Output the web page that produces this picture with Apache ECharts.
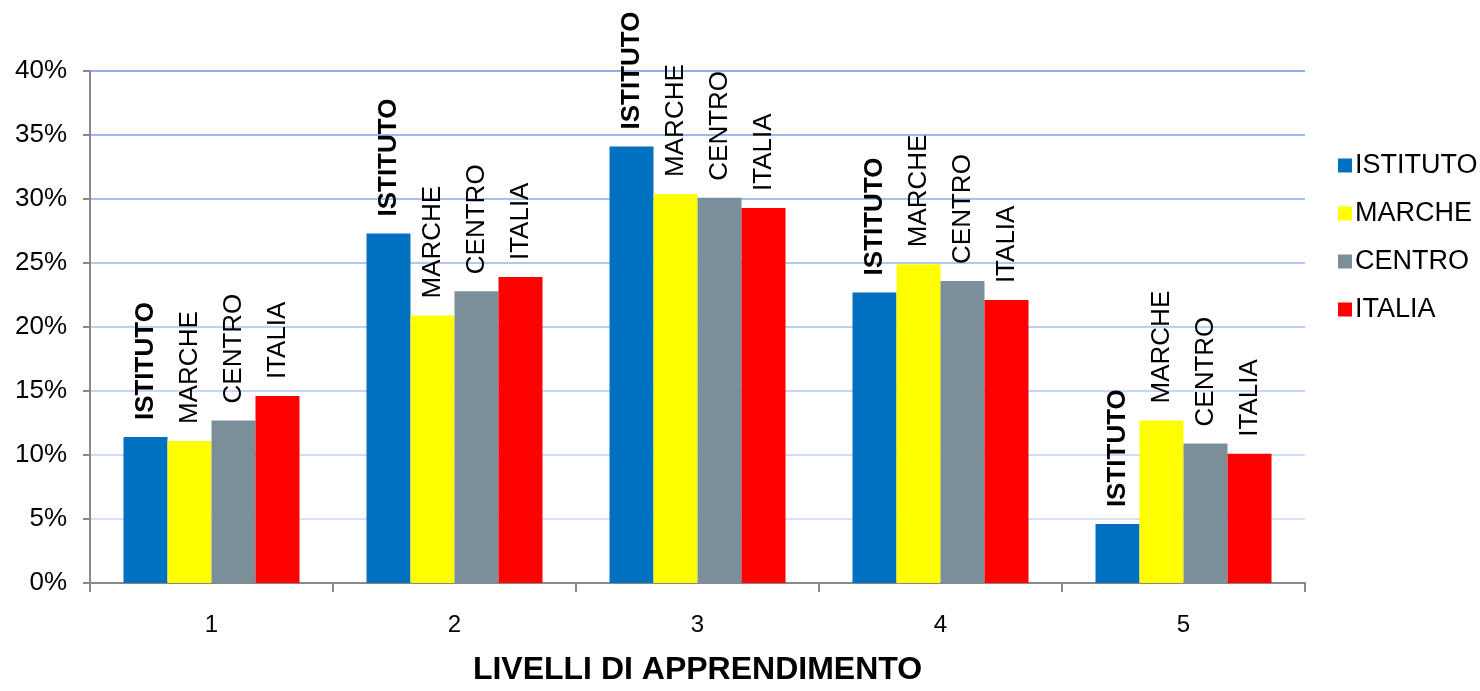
<!DOCTYPE html>
<html>
<head>
<meta charset="utf-8">
<script src="https://cdn.jsdelivr.net/npm/echarts@6/dist/echarts.min.js"></script>
<style>
html,body{margin:0;padding:0;background:#fff;}
#chart{width:1480px;height:691px;}
</style>
</head>
<body>
<div id="chart"></div>
<script>
const categories = ['1', '2', '3', '4', '5'];
const seriesNames = ['ISTITUTO', 'MARCHE', 'CENTRO', 'ITALIA'];
const istituto = [11.4, 27.3, 34.1, 22.7, 4.6];
const marche = [11.1, 20.9, 30.4, 24.9, 12.7];
const centro = [12.7, 22.8, 30.1, 23.6, 10.9];
const italia = [14.6, 23.9, 29.3, 22.1, 10.1];
const yTicks = [0, 5, 10, 15, 20, 25, 30, 35, 40];

const colors = ['#0070C0', '#FFFF00', '#7A8F99', '#FF0000'];
const values = [istituto, marche, centro, italia];
const FONT = 'Liberation Sans, Arial, sans-serif';

const chart = echarts.init(document.getElementById('chart'), null, {renderer: 'canvas'});

const series = seriesNames.map((name, i) => ({
  name: name,
  type: 'bar',
  data: values[i],
  barWidth: 44,
  barGap: '0%',
  itemStyle: {color: colors[i]},
  label: {
    show: true,
    position: 'top',
    rotate: 90,
    align: 'left',
    verticalAlign: 'middle',
    distance: 17,
    formatter: () => name,
    color: '#000',
    fontFamily: FONT,
    fontSize: 26,
    fontWeight: i === 0 ? 'bold' : 'normal'
  }
}));

chart.setOption({
  animation: false,
  backgroundColor: '#fff',
  color: colors,
  grid: {left: 90, right: 175, top: 71, bottom: 106, containLabel: false},
  legend: {
    orient: 'vertical',
    left: 1333,
    top: 147,
    itemWidth: 14,
    itemHeight: 14,
    itemGap: 21,
    icon: 'rect',
    textStyle: {fontFamily: FONT, fontSize: 27, color: '#000', padding: [0, 0, 0, -2]},
    data: seriesNames
  },
  xAxis: {
    type: 'category',
    data: categories,
    name: 'LIVELLI DI APPRENDIMENTO',
    nameLocation: 'middle',
    nameGap: 71,
    nameTextStyle: {fontFamily: FONT, fontSize: 32, fontWeight: 'bold', color: '#000'},
    axisLine: {lineStyle: {color: '#898989', width: 2}},
    axisTick: {show: true, alignWithLabel: false, length: 9, lineStyle: {color: '#898989', width: 2}},
    axisLabel: {fontFamily: FONT, fontSize: 24, color: '#000', margin: 30},
    splitLine: {show: false}
  },
  yAxis: {
    type: 'value',
    min: yTicks[0],
    max: yTicks[yTicks.length - 1],
    interval: 5,
    axisLine: {show: true, lineStyle: {color: '#898989', width: 2}},
    axisTick: {show: true, length: 7, lineStyle: {color: '#898989', width: 2}},
    axisLabel: {fontFamily: FONT, fontSize: 26, color: '#000', margin: 23, formatter: v => v + '%'},
    splitLine: {
      show: true,
      lineStyle: {
        width: 2,
        color: ['#dce5fb', '#d5e0fb', '#cedbfa', '#c6d6f9', '#bccff8', '#b1c8f6', '#a6c0f5', '#9bb8f3', '#8eb0f1']
      }
    }
  },
  series: series
});
</script>
</body>
</html>
